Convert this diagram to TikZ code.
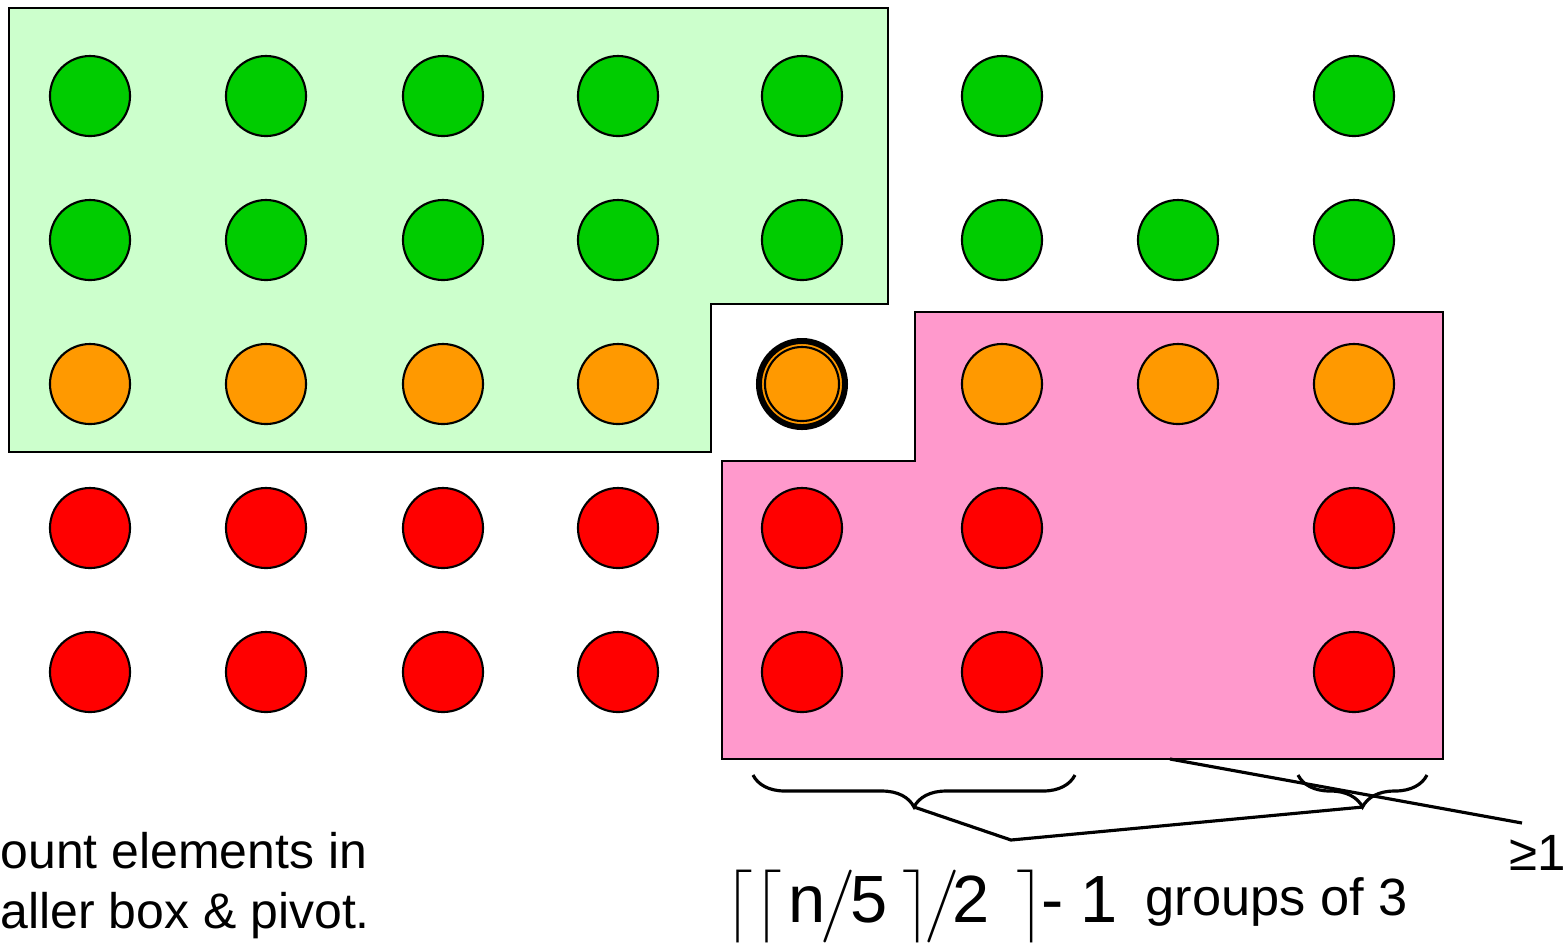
\documentclass[tikz,border=0pt]{standalone}
\usepackage{amsmath}
\usepackage{fontspec}
\setmainfont{Liberation Sans}
\usetikzlibrary{decorations.pathreplacing, calc, positioning}
\definecolor{ballgreen}{HTML}{00CC00}
\definecolor{ballorange}{HTML}{FF9900}
\definecolor{ballred}{HTML}{FF0000}
\definecolor{boxgreen}{HTML}{CCFFCC}
\definecolor{boxpink}{HTML}{FF99CC}

\begin{document}
\begin{tikzpicture}[
		x=0.01cm, y=-0.01cm,
		ball/.style={circle, draw=black, line width=0.6pt, minimum size=0.8cm, inner sep=0pt},
		region/.style={draw=black, line width=0.6pt},
		brace/.style={decorate, decoration={brace, mirror, amplitude=0.32cm}, line width=0.9pt},
		link/.style={line width=0.9pt},
		txt/.style={inner sep=0pt, anchor=base west}
		]
		\useasboundingbox (0,0) rectangle (1565,947);
		\clip (0,0) rectangle (1565,947);
		
		% ==========================================
		% 1. THE TWO BOXES
		% ==========================================
		\draw[region, fill=boxgreen] (9,8) -- (888,8) -- (888,304) -- (711,304) -- (711,452) -- (9,452) -- cycle;
		\draw[region, fill=boxpink] (915,312) -- (1443,312) -- (1443,759) -- (722,759) -- (722,461) -- (915,461) -- cycle;
		
		% ==========================================
		% 2. THE ELEMENTS
		% ==========================================
		% Data format: row index / colour / columns present
		\foreach \i/\clr/\cols in {
			1/ballgreen/{1,2,3,4,5,6,8},
			2/ballgreen/{1,2,3,4,5,6,7,8},
			3/ballorange/{1,2,3,4,6,7,8},
			4/ballred/{1,2,3,4,5,6,8},
			5/ballred/{1,2,3,4,5,6,8}%
		} {
			\foreach \j in \cols {
				\pgfmathsetmacro{\x}{{90,266,443,618,802,1002,1178,1354}[\j-1]}
				\node[ball, fill=\clr] (c-\i-\j) at (\x, 96+144*\i-144) {};
			}
		}
		% The pivot
		\node[ball, fill=ballorange, line width=1.7pt, minimum size=0.86cm] (pivot) at (802,384) {};
		\draw[line width=0.6pt] (pivot.center) circle[radius=0.37cm];
		
		% ==========================================
		% 3. BRACES AND LEADERS
		% ==========================================
		\draw[brace] (753,775) -- (1075,775);
		\draw[brace] (1298,775) -- (1427,775);
		\coordinate (lb-tip) at (914,807);
		\coordinate (rb-tip) at (1363,807);
		\coordinate (join) at (1011,840);
		\coordinate (pk-bot) at (1170,759);
		\coordinate (ge-end) at (1522,823);
		\draw[link] (lb-tip) -- (join) -- (rb-tip);
		\draw[link] (pk-bot) -- (ge-end);
		
		% ==========================================
		% 4. TEXT
		% ==========================================
		\node[inner sep=0pt, anchor=north west, align=left, font=\fontsize{14.2}{17}\selectfont] (note) at (0,832) {ount elements in\\aller box \& pivot.};
		\node[txt, font=\fontsize{14.5}{17}\selectfont] (ge) at (1509,870) {≥1};
		\node[txt, font=\fontsize{19}{23}\selectfont] (count) at (724,922)
		{$\bigl\lceil\bigl\lceil\kern1.8pt\text{n}\kern-1.4pt\big/\kern-1.4pt\text{5}\kern4.2pt\bigr\rceil\kern-2pt\big/\kern-2pt\text{2}\kern7.5pt\bigr\rceil$\kern-1pt-\hspace{4.8pt}1};
		\node[txt, font=\fontsize{14.9}{17}\selectfont] (groups) at (1145,915) {groups of 3};
		
	\end{tikzpicture}
\end{document}
